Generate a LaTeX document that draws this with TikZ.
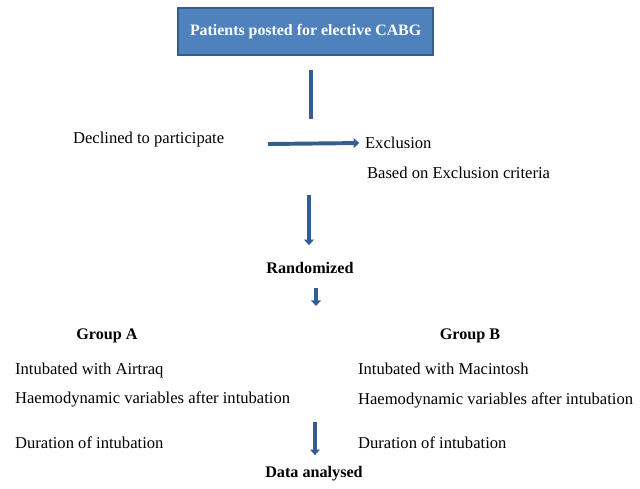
\documentclass[tikz,border=0pt]{standalone}
\usepackage{fontspec}
\setmainfont{Liberation Serif}
\usepackage{tikz}
\usetikzlibrary{positioning,arrows.meta}
\definecolor{officeblue}{RGB}{79,129,189}
\definecolor{edgeblue}{RGB}{56,93,138}
\definecolor{flowblue}{RGB}{52,94,146}
\tikzset{
  topbox/.style={draw=edgeblue, line width=1pt, fill=officeblue, align=center, minimum width=6.375cm, minimum height=1.175cm, font=\fontsize{11.3}{13}\selectfont\bfseries, text=white},
  txt/.style={inner sep=2pt, font=\fontsize{11.8}{13}\selectfont},
  head/.style={inner sep=2pt, font=\fontsize{11.5}{13}\selectfont\bfseries},
  flow/.style={line width=2.8pt, draw=flowblue},
  arrow/.style={-{Triangle[length=4pt, width=7pt]}, line width=2.8pt, draw=flowblue}
}
\begin{document}
\begin{tikzpicture}
  \useasboundingbox (0,0) rectangle (16,-12.2);
  \node[topbox] (pat) at (7.64,-0.79) {Patients posted for elective CABG};
  \node[txt, anchor=west] (decl) at (1.75,-3.5) {Declined to participate};
  \node[txt, anchor=west] (excl) at (9.05,-3.575) {Exclusion};
  \node[txt, anchor=west] (crit) at (9.1,-4.325) {Based on Exclusion criteria};
  \node[head] (rand) at (7.75,-6.7) {Randomized};
  \node[head] (grpa) at (2.675,-8.4) {Group A};
  \node[head] (grpb) at (11.75,-8.4) {Group B};
  \node[txt, anchor=west] (a1) at (0.3,-9.25) {Intubated with Airtraq};
  \node[txt, anchor=west] (a2) at (0.3,-9.975) {Haemodynamic variables after intubation};
  \node[txt, anchor=west] (a3) at (0.3,-11.075) {Duration of intubation};
  \node[txt, anchor=west] (b1) at (8.875,-9.225) {Intubated with Macintosh};
  \node[txt, anchor=west] (b2) at (8.875,-10.0) {Haemodynamic variables after intubation};
  \node[txt, anchor=west] (b3) at (8.875,-11.075) {Duration of intubation};
  \node[head] (data) at (7.85,-11.85) {Data analysed};
  % free ends of the connectors
  \coordinate (v1a) at (7.775,-1.75);
  \coordinate (v1b) at (7.775,-2.975);
  \coordinate (h1) at (6.7,-3.6);
  \coordinate (v2) at (7.725,-4.875);
  \coordinate (v3a) at (7.9,-7.2);
  \coordinate (v3b) at (7.9,-7.65);
  \coordinate (v4) at (7.875,-10.55);
  \draw[flow] (v1a) -- (v1b);
  \draw[arrow, shorten >=2pt] (h1) -- (excl.west);
  \draw[arrow, shorten >=10pt] (v2) -- (v2 |- rand.north);
  \draw[arrow] (v3a) -- (v3b);
  \draw[arrow, shorten >=6pt] (v4) -- (v4 |- data.north);
\end{tikzpicture}
\end{document}
